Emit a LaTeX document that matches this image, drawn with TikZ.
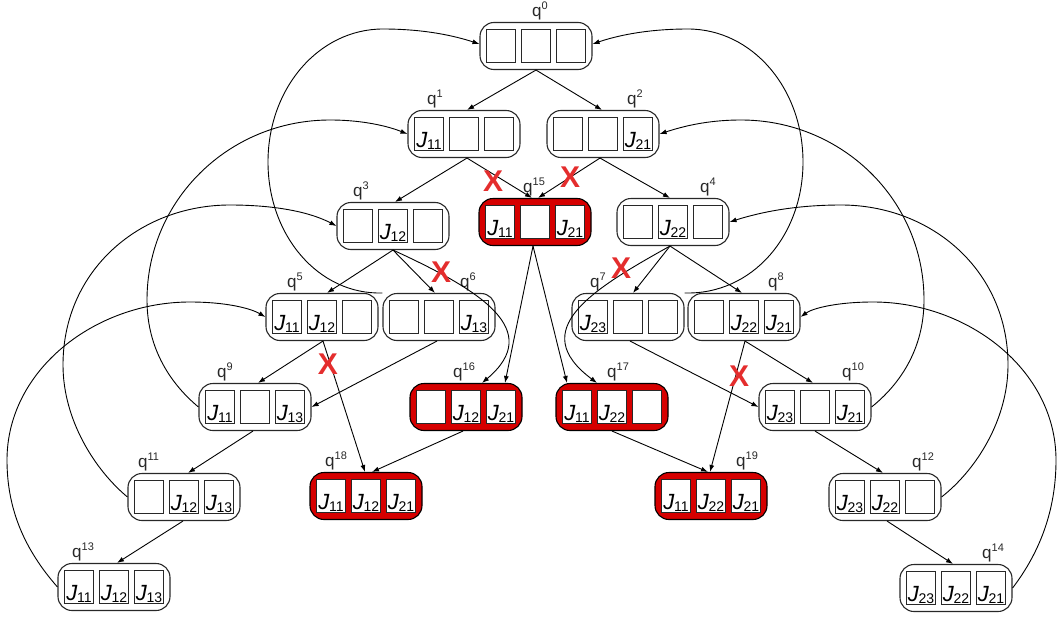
\documentclass[tikz,border=0pt]{standalone}
\usepackage{fontspec}
\setmainfont{Liberation Sans}
\usetikzlibrary{arrows.meta,calc}
\definecolor{badred}{RGB}{214,0,0}
\definecolor{xred}{RGB}{228,45,45}
\definecolor{edgecol}{RGB}{40,40,40}
\tikzset{
  stbox/.style={draw=edgecol, line width=1.1pt, rounded corners=14pt, minimum width=112pt, minimum height=47pt, inner sep=0pt, fill=white},
  badbox/.style={stbox, fill=badred, draw=black},
  cellbox/.style={draw=edgecol, line width=1.2pt, minimum width=29pt, minimum height=33pt, inner sep=0pt, fill=white},
  celltext/.style={anchor=base, inner sep=0pt, font=\fontsize{22}{22}\selectfont},
  qlab/.style={anchor=base west, inner sep=0pt, font=\fontsize{17}{17}\selectfont, text=edgecol},
  arr/.style={draw=black, line width=0.9pt, -{Latex[length=7pt,width=5pt]}},
  xmark/.style={text=xred, font=\fontsize{30}{30}\selectfont\bfseries, inner sep=0pt}
}
\newcommand{\J}[1]{\textit{J}\kern-0.5pt\raisebox{-2.5pt}{\fontsize{14}{14}\selectfont #1}}
\newcommand{\qs}[1]{q\raisebox{7pt}{\fontsize{11}{11}\selectfont #1}}
\newcommand{\stnode}[9]{%
  \node[#4] (#1) at (#2,#3) {};
  \node[cellbox] (#1a) at ([xshift=-35pt]#1.center) {};
  \node[cellbox] (#1b) at (#1.center) {};
  \node[cellbox] (#1c) at ([xshift=35pt]#1.center) {};
  \node[celltext] at ([yshift=4pt]#1a.south) {#5};
  \node[celltext] at ([yshift=4pt]#1b.south) {#6};
  \node[celltext] at ([yshift=4pt]#1c.south) {#7};
  \node[qlab] at ([xshift=#9pt,yshift=5pt]#1.north) {\qs{#8}};
}
\begin{document}
\begin{tikzpicture}[x=1pt,y=-1pt]
\useasboundingbox (0,0) rectangle (1057,618);
% states
\stnode{q0}{536}{46}{stbox}{}{}{}{0}{-4}
\stnode{q1}{464}{134}{stbox}{\J{11}}{}{}{1}{-37}
\stnode{q2}{603}{134}{stbox}{}{}{\J{21}}{2}{24}
\stnode{q3}{393}{226}{stbox}{}{\J{12}}{}{3}{-40}
\stnode{q15}{535}{222}{badbox}{\J{11}}{}{\J{21}}{15}{-12}
\stnode{q4}{673}{222}{stbox}{}{\J{22}}{}{4}{27}
\stnode{q5}{322}{317}{stbox}{\J{11}}{\J{12}}{}{5}{-35}
\stnode{q6}{439}{317}{stbox}{}{}{\J{13}}{6}{21}
\stnode{q7}{628}{317}{stbox}{\J{23}}{}{}{7}{-38}
\stnode{q8}{744}{317}{stbox}{}{\J{22}}{\J{21}}{8}{24}
\stnode{q9}{255}{407}{stbox}{\J{11}}{}{\J{13}}{9}{-38}
\stnode{q16}{466}{407}{badbox}{}{\J{12}}{\J{21}}{16}{-13}
\stnode{q17}{612}{407}{badbox}{\J{11}}{\J{22}}{}{17}{-5}
\stnode{q10}{815}{407}{stbox}{\J{23}}{}{\J{21}}{10}{27}
\stnode{q11}{184}{497}{stbox}{}{\J{12}}{\J{13}}{11}{-46}
\stnode{q18}{366}{496}{badbox}{\J{11}}{\J{12}}{\J{21}}{18}{-41}
\stnode{q19}{711}{496}{badbox}{\J{11}}{\J{22}}{\J{21}}{19}{25}
\stnode{q12}{885}{497}{stbox}{\J{23}}{\J{22}}{}{12}{27}
\stnode{q13}{114}{587}{stbox}{\J{11}}{\J{12}}{\J{13}}{13}{-42}
\stnode{q14}{956}{588}{stbox}{\J{23}}{\J{22}}{\J{21}}{14}{26}
% straight transitions
\draw[arr] (q0.south) -- ([xshift=3pt]q1.north);
\draw[arr] (q0.south) -- ([xshift=-1pt]q2.north);
\draw[arr] ([xshift=3pt]q1.south) -- ([xshift=2pt]q3.north);
\draw[arr] ([xshift=3pt]q1.south) -- ([xshift=-3pt]q15.north);
\draw[arr] ([xshift=-3pt]q2.south) -- ([xshift=3pt]q15.north);
\draw[arr] ([xshift=-3pt]q2.south) -- ([xshift=-3pt]q4.north);
\draw[arr] (q3.south) -- ([xshift=5pt]q5.north);
\draw[arr] (q3.south) -- ([xshift=-4pt]q6.north);
\draw[arr] (q3.south) .. controls (480,290) and (545,330) .. ([xshift=16pt]q16.north);
\draw[arr] ([xshift=-3pt]q4.south) -- ([xshift=5pt]q7.north);
\draw[arr] ([xshift=-3pt]q4.south) -- ([xshift=-2pt]q8.north);
\draw[arr] ([xshift=-3pt]q4.south) .. controls (591,290) and (526,330) .. ([xshift=-15pt]q17.north);
\draw[arr] ([xshift=-2pt]q15.south) -- ([xshift=39pt]q16.north);
\draw[arr] ([xshift=-2pt]q15.south) -- ([xshift=-45pt]q17.north);
\draw[arr] ([xshift=1pt]q5.south) -- ([xshift=3pt]q9.north);
\draw[arr] ([xshift=1pt]q5.south) -- ([xshift=-1pt]q18.north);
\draw[arr] ([xshift=-2pt]q6.south) -- (q9.east);
\draw[arr] ([xshift=-3pt]q16.south) -- ([xshift=6pt]q18.north);
\draw[arr] ([xshift=-2pt]q9.south) -- ([xshift=4pt]q11.north);
\draw[arr] ([xshift=-1pt]q11.south) -- ([xshift=3pt]q13.north);
\draw[arr] ([xshift=2pt]q7.south) -- (q10.west);
\draw[arr] ([xshift=1pt]q8.south) -- ([xshift=-2pt]q10.north);
\draw[arr] ([xshift=1pt]q8.south) -- ([xshift=-1pt]q19.north);
\draw[arr] (q17.south) -- ([xshift=-3pt]q19.north);
\draw[arr] (q10.south) -- ([xshift=-2pt]q12.north);
\draw[arr] ([xshift=2pt]q12.south) -- ([xshift=-3pt]q14.north);
% return arcs
\draw[arr] (q6.north west) .. controls (319,295) and (268,236) .. (268,162) .. controls (268,88) and (319,29) .. (383,29) .. controls (425,29) and (455,36) .. ([yshift=2pt]q0.west);
\draw[arr] (q7.north east) .. controls (752,295) and (803,236) .. (803,162) .. controls (803,88) and (752,29) .. (688,29) .. controls (646,29) and (616,36) .. ([yshift=2pt]q0.east);
\draw[arr] (q9.west) .. controls (172,385) and (147,350) .. (147,300) .. controls (147,200) and (229,120) .. (330,120) .. controls (365,120) and (390,127) .. (q1.west);
\draw[arr] (q10.east) .. controls (899,385) and (924,350) .. (924,300) .. controls (924,200) and (842,120) .. (741,120) .. controls (706,120) and (681,127) .. (q2.east);
\draw[arr] (q11.west) .. controls (95,470) and (63,420) .. (63,365) .. controls (63,270) and (140,205) .. (230,205) .. controls (275,205) and (310,212) .. (q3.west);
\draw[arr] (q12.east) .. controls (976,470) and (1008,420) .. (1008,365) .. controls (1008,270) and (931,205) .. (841,205) .. controls (796,205) and (761,212) .. (q4.east);
\draw[arr] (q13.west) .. controls (25,550) and (7,510) .. (7,460) .. controls (7,370) and (95,302) .. (190,302) .. controls (225,302) and (250,308) .. (q5.west);
\draw[arr] (q14.east) .. controls (1040,552) and (1056,510) .. (1056,460) .. controls (1056,370) and (968,302) .. (873,302) .. controls (838,302) and (813,308) .. (q8.east);
% forbidden marks
\node[xmark] (x1) at (493,181) {X};
\node[xmark] (x2) at (570,177) {X};
\node[xmark] (x3) at (441,272) {X};
\node[xmark] (x4) at (621,268) {X};
\node[xmark] (x5) at (328,364) {X};
\node[xmark] (x6) at (739,376) {X};
\end{tikzpicture}
\end{document}
